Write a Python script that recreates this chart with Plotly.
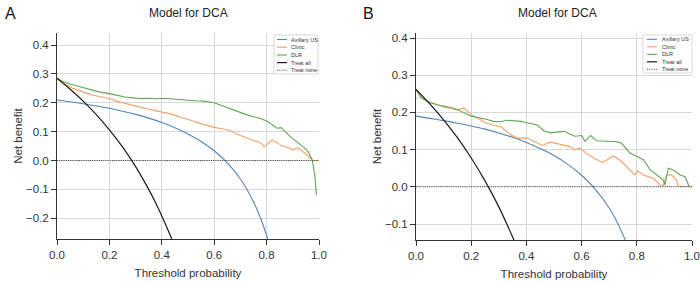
import plotly.graph_objects as go

# ---------------- Data ----------------
# Panel A
a_all_x = [0.0, 0.05, 0.1, 0.15, 0.2, 0.25, 0.3, 0.35, 0.375, 0.4, 0.42, 0.44, 0.45]
a_all_y = [0.285, 0.247, 0.206, 0.159, 0.106, 0.047, -0.021, -0.100, -0.144, -0.192, -0.233, -0.277, -0.300]

a_us_x = [0.0, 0.05, 0.1, 0.15, 0.2, 0.25, 0.3, 0.35, 0.4, 0.45, 0.5, 0.55, 0.6, 0.65, 0.7, 0.75, 0.78, 0.8, 0.81]
a_us_y = [0.210, 0.204, 0.197, 0.189, 0.181, 0.171, 0.160, 0.147, 0.132, 0.114, 0.092, 0.066, 0.034, -0.008,
          -0.064, -0.143, -0.207, -0.260, -0.291]

a_clin_x = [0.0, 0.03, 0.06, 0.1, 0.13, 0.16, 0.2, 0.23, 0.26, 0.29, 0.32, 0.35, 0.38, 0.41, 0.44, 0.47,
            0.5, 0.53, 0.56, 0.6, 0.63, 0.66, 0.69, 0.72, 0.75, 0.78, 0.79, 0.8, 0.82, 0.84, 0.86, 0.88,
            0.9, 0.92, 0.94, 0.96, 0.975, 1.0]
a_clin_y = [0.285, 0.265, 0.250, 0.238, 0.228, 0.222, 0.215, 0.205, 0.198, 0.190, 0.183, 0.178, 0.172,
            0.165, 0.160, 0.150, 0.143, 0.133, 0.125, 0.115, 0.110, 0.104, 0.090, 0.080, 0.072, 0.060,
            0.047, 0.055, 0.071, 0.062, 0.050, 0.045, 0.038, 0.044, 0.030, 0.015, 0.0, 0.0]

a_dlr_x = [0.0, 0.02, 0.05, 0.08, 0.1, 0.13, 0.16, 0.2, 0.23, 0.26, 0.29, 0.32, 0.35, 0.38, 0.41, 0.44,
           0.47, 0.5, 0.53, 0.56, 0.6, 0.63, 0.65, 0.68, 0.7, 0.72, 0.75, 0.78, 0.8, 0.82, 0.84, 0.855,
           0.87, 0.885, 0.9, 0.92, 0.94, 0.955, 0.965, 0.975, 0.985, 0.99]
a_dlr_y = [0.285, 0.275, 0.265, 0.258, 0.252, 0.245, 0.238, 0.232, 0.226, 0.220, 0.217, 0.215, 0.216,
           0.214, 0.216, 0.213, 0.211, 0.209, 0.207, 0.206, 0.200, 0.190, 0.182, 0.174, 0.167, 0.160,
           0.152, 0.145, 0.137, 0.124, 0.112, 0.114, 0.100, 0.087, 0.075, 0.062, 0.048, 0.035, 0.020,
           0.0, -0.060, -0.120]

# Panel B
b_all_x = [0.0, 0.05, 0.1, 0.15, 0.2, 0.25, 0.3, 0.35, 0.36]
b_all_y = [0.262, 0.223, 0.180, 0.132, 0.0775, 0.016, -0.054, -0.135, -0.153]

b_us_x = [0.0, 0.05, 0.1, 0.15, 0.2, 0.25, 0.3, 0.35, 0.4, 0.45, 0.5, 0.55, 0.6, 0.65, 0.7, 0.73, 0.76, 0.77]
b_us_y = [0.190, 0.184, 0.178, 0.171, 0.1635, 0.155, 0.1446, 0.133, 0.1193, 0.103, 0.084, 0.0604, 0.031,
          -0.007, -0.057, -0.097, -0.146, -0.165]

b_clin_x = [0.0, 0.02, 0.04, 0.077, 0.1, 0.13, 0.15, 0.174, 0.2, 0.234, 0.252, 0.283, 0.307, 0.343, 0.367,
            0.403, 0.427, 0.457, 0.488, 0.522, 0.558, 0.576, 0.594, 0.624, 0.667, 0.679, 0.703, 0.715,
            0.739, 0.775, 0.793, 0.802, 0.824, 0.86, 0.884, 0.896, 0.908, 0.926, 0.944, 0.95, 1.0]
b_clin_y = [0.262, 0.240, 0.230, 0.220, 0.215, 0.210, 0.207, 0.212, 0.194, 0.180, 0.172, 0.165, 0.162,
            0.140, 0.131, 0.131, 0.122, 0.111, 0.120, 0.114, 0.108, 0.100, 0.104, 0.086, 0.068, 0.066,
            0.077, 0.083, 0.072, 0.046, 0.032, 0.043, 0.032, 0.023, 0.005, 0.004, 0.032, 0.032, 0.018,
            0.002, 0.0]

b_dlr_x = [0.0, 0.017, 0.053, 0.08, 0.113, 0.15, 0.2, 0.23, 0.258, 0.28, 0.307, 0.33, 0.355, 0.38, 0.401,
           0.44, 0.464, 0.488, 0.51, 0.54, 0.552, 0.576, 0.6, 0.612, 0.633, 0.654, 0.727, 0.745, 0.775,
           0.802, 0.824, 0.848, 0.873, 0.896, 0.902, 0.914, 0.932, 0.957, 0.975, 0.987, 0.99]
b_dlr_y = [0.262, 0.240, 0.226, 0.220, 0.215, 0.208, 0.190, 0.186, 0.181, 0.176, 0.175, 0.179, 0.177,
           0.176, 0.172, 0.166, 0.150, 0.145, 0.147, 0.149, 0.143, 0.136, 0.138, 0.122, 0.138, 0.124,
           0.121, 0.117, 0.091, 0.080, 0.073, 0.046, 0.032, 0.018, 0.005, 0.050, 0.045, 0.032, 0.027,
           0.004, 0.0]

none_x = [0.0, 1.0]
none_y = [0.0, 0.0]

series_names = ["Axillary US", "Clinic", "DLR", "Treat all", "Treat none"]
x_ticks = [0.0, 0.2, 0.4, 0.6, 0.8, 1.0]
a_y_ticks = [-0.2, -0.1, 0.0, 0.1, 0.2, 0.3, 0.4]
b_y_ticks = [-0.1, 0.0, 0.1, 0.2, 0.3, 0.4]

# ---------------- Styles ----------------
W, H = 700, 282
BLUE = "#5385b6"
ORANGE = "#f2a166"
GREEN = "#62a655"
BLACK = "#1a1a1a"
NONE_C = "#444444"
GRID = "#d8d8d8"
AXIS = "#333333"
FONT = "Liberation Sans, Arial, sans-serif"

styles = {
    "Axillary US": dict(color=BLUE, width=1.1, dash="solid"),
    "Clinic": dict(color=ORANGE, width=1.1, dash="solid"),
    "DLR": dict(color=GREEN, width=1.1, dash="solid"),
    "Treat all": dict(color=BLACK, width=1.2, dash="solid"),
    "Treat none": dict(color=NONE_C, width=1.1, dash="1px,1.2px"),
}


def px(x):
    return x / W


def py(y):
    return 1 - y / H


fig = go.Figure()

panels = [
    ("x", "y", [(a_us_x, a_us_y, "Axillary US", "spline"), (a_clin_x, a_clin_y, "Clinic", "linear"),
                (a_dlr_x, a_dlr_y, "DLR", "linear"), (none_x, none_y, "Treat none", "linear"),
                (a_all_x, a_all_y, "Treat all", "spline")]),
    ("x2", "y2", [(b_us_x, b_us_y, "Axillary US", "spline"), (b_clin_x, b_clin_y, "Clinic", "linear"),
                  (b_dlr_x, b_dlr_y, "DLR", "linear"), (none_x, none_y, "Treat none", "linear"),
                  (b_all_x, b_all_y, "Treat all", "spline")]),
]
for xa, ya, traces in panels:
    for xs, ys, name, shape in traces:
        fig.add_trace(go.Scatter(x=xs, y=ys, mode="lines", name=name, xaxis=xa, yaxis=ya,
                                 line=dict(shape=shape, **styles[name]), showlegend=False,
                                 cliponaxis=True))

axis_common = dict(showgrid=True, gridcolor=GRID, gridwidth=1, zeroline=False, showline=True,
                   linecolor=AXIS, linewidth=1, ticks="outside", ticklen=5, tickcolor=AXIS,
                   tickfont=dict(family=FONT, size=11.5, color="#333333"), tickformat=".1f",
                   title_font=dict(family=FONT, size=11.5, color="#333333"), mirror=False,
                   automargin=False)

fig.update_layout(
    template="none",
    width=W, height=H, margin=dict(l=0, r=0, t=0, b=0, autoexpand=False),
    paper_bgcolor="white", plot_bgcolor="white", showlegend=False,
    xaxis=dict(domain=[px(57), px(319)], range=[0, 1.0], tickvals=x_ticks, anchor="y",
               title=dict(text="Threshold probability", standoff=9), **axis_common),
    yaxis=dict(domain=[py(239), py(33)], range=[-0.272, 0.442], tickvals=a_y_ticks, anchor="x",
               title=dict(text="Net benefit", standoff=0), **axis_common),
    xaxis2=dict(domain=[px(416), px(692)], range=[0, 1.0], tickvals=x_ticks, anchor="y2",
                title=dict(text="Threshold probability", standoff=9), **axis_common),
    yaxis2=dict(domain=[py(240), py(33)], range=[-0.143, 0.4135], tickvals=b_y_ticks, anchor="x2",
                title=dict(text="Net benefit", standoff=0), **axis_common),
)

# titles and panel letters
annotations = []
for letter, lx, cx in [("A", 10, 188), ("B", 368, 557)]:
    annotations.append(dict(text=letter, x=px(lx), y=py(14), xref="paper", yref="paper",
                            showarrow=False, xanchor="center", yanchor="middle",
                            font=dict(family=FONT, size=16, color="#111111")))
    annotations.append(dict(text="Model for DCA", x=px(cx), y=py(13), xref="paper", yref="paper",
                            showarrow=False, xanchor="center", yanchor="middle",
                            font=dict(family=FONT, size=12, color="#222222")))

# manual small legends
shapes = []
for (bx0, bx1, by0, by1, lx0, lx1, tx, rows) in [
    (274, 318, 35, 74, 277, 287, 289, [39.5, 47.2, 55, 62.6, 70.2]),
    (643, 692, 35, 73, 647, 657, 660, [39.3, 46.8, 54.3, 61.8, 69.3]),
]:
    shapes.append(dict(type="rect", xref="paper", yref="paper", x0=px(bx0), x1=px(bx1),
                       y0=py(by1), y1=py(by0), line=dict(color="#cfcfcf", width=0.8),
                       fillcolor="white", layer="above"))
    for name, ry in zip(series_names, rows):
        st = styles[name]
        shapes.append(dict(type="line", xref="paper", yref="paper", x0=px(lx0), x1=px(lx1),
                           y0=py(ry), y1=py(ry), layer="above",
                           line=dict(color=st["color"], width=st["width"], dash=st["dash"])))
        annotations.append(dict(text=name, x=px(tx), y=py(ry), xref="paper", yref="paper",
                                showarrow=False, xanchor="left", yanchor="middle",
                                font=dict(family=FONT, size=5.5, color="#333333")))

fig.update_layout(annotations=annotations, shapes=shapes)

fig.write_html("out.html", config={"displayModeBar": False},
               post_script="document.body.style.margin='0';document.body.style.overflow='hidden';")
